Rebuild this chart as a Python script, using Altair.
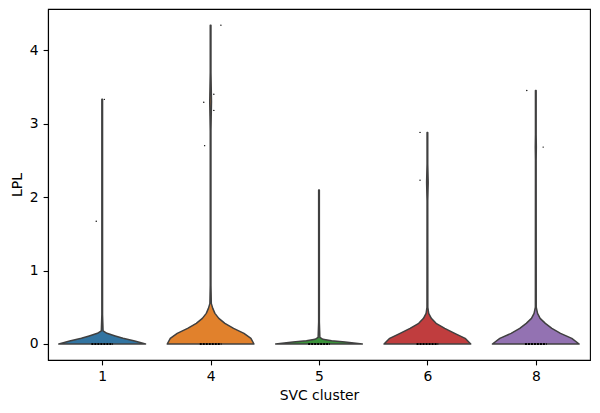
import altair as alt
import pandas as pd

# categories and colours
clusters = ["1", "4", "5", "6", "8"]
colors = ["#3274a1", "#e1812c", "#3a923a", "#c03d3e", "#9372b2"]

# violin outlines: level (LPL value) and relative half-width
levels = {
    "1": [0, 0.041, 0.077, 0.109, 0.145, 0.18, 0.4, 3.33],
    "4": [0, 0.077, 0.145, 0.213, 0.281, 0.349, 0.417, 0.485, 0.553, 0.8, 2.9, 3.1,
          3.3, 3.5, 3.7, 4.34],
    "5": [0, 0.027, 0.045, 0.063, 0.09, 0.3, 2.095],
    "6": [0, 0.077, 0.145, 0.213, 0.281, 0.349, 0.417, 0.5, 1.95, 2.2, 2.45, 2.88],
    "8": [0, 0.077, 0.145, 0.213, 0.281, 0.349, 0.417, 0.5, 2.5, 2.68, 2.85, 3.45],
}
widths = {
    "1": [1, 0.75, 0.48, 0.30, 0.11, 0.02, 0.008, 0.008],
    "4": [1, 0.93, 0.77, 0.53, 0.33, 0.19, 0.10, 0.05, 0.016, 0.008, 0.008, 0.014,
          0.02, 0.014, 0.008, 0.008],
    "5": [1, 0.6, 0.29, 0.09, 0.02, 0.008, 0.008],
    "6": [1, 0.87, 0.63, 0.40, 0.20, 0.09, 0.03, 0.01, 0.008, 0.018, 0.008, 0.008],
    "8": [1, 0.83, 0.57, 0.37, 0.22, 0.10, 0.04, 0.01, 0.008, 0.012, 0.008, 0.008],
}

# non-zero cells (strip points) and their jitter
point_cluster = ["1", "1", "4", "4", "4", "4", "4", "6", "6", "8", "8"]
point_value = [3.33, 1.67, 4.34, 3.40, 3.29, 3.18, 2.70, 2.88, 2.23, 3.45, 2.68]
point_jitter = [0.02, -0.055, 0.095, 0.03, -0.063, 0.03, -0.055, -0.068, -0.068, -0.083, 0.068]

# jitter spread of the many zero-valued cells
zero_spread = 0.1
max_half_width = 0.4

rows = []
for i, c in enumerate(clusters):
    for lv, w in zip(levels[c], widths[c]):
        rows.append({"cluster": c, "level": lv,
                     "left": i - max_half_width * w, "right": i + max_half_width * w})
violin_df = pd.DataFrame(rows)

points_df = pd.DataFrame({
    "cluster": point_cluster, "value": point_value,
    "pos": [clusters.index(c) + j for c, j in zip(point_cluster, point_jitter)],
})

zero_df = pd.DataFrame({
    "cluster": clusters,
    "x1": [i - zero_spread for i in range(len(clusters))],
    "x2": [i + zero_spread for i in range(len(clusters))],
    "zero": [0] * len(clusters),
})

FONT = "DejaVu Sans"
label_expr = "[" + ",".join("'%s'" % c for c in clusters) + "][datum.value]"

xscale = alt.Scale(domain=[-0.5, len(clusters) - 0.5], nice=False, zero=False)
yscale = alt.Scale(domain=[-0.218, 4.56], nice=False, zero=False)

x_axis = alt.Axis(values=list(range(len(clusters))), labelExpr=label_expr, title="SVC cluster",
                  grid=False, tickSize=4.9, labelPadding=4.9, tickColor="black", tickWidth=1.1,
                  domainColor="black", domainWidth=1.1, labelFont=FONT, labelFontSize=13.9,
                  labelColor="black", titleFont=FONT, titleFontSize=13.9, titleFontWeight="normal",
                  titleColor="black", titlePadding=5, labelFlush=False)
y_axis = alt.Axis(values=[0, 1, 2, 3, 4], title="LPL", grid=False, tickSize=4.9, labelPadding=4.9,
                  tickColor="black", tickWidth=1.1, domainColor="black", domainWidth=1.1,
                  labelFont=FONT, labelFontSize=13.9, labelColor="black", titleFont=FONT,
                  titleFontSize=13.9, titleFontWeight="normal", titleColor="black",
                  titlePadding=5, labelFlush=False)

violins = alt.Chart(violin_df).mark_area(
    orient="horizontal", stroke="#404040", strokeWidth=1.5, opacity=1, strokeJoin="round"
).encode(
    y=alt.Y("level:Q", scale=yscale, axis=y_axis),
    x=alt.X("left:Q", scale=xscale, axis=x_axis),
    x2="right:Q",
    color=alt.Color("cluster:N", scale=alt.Scale(domain=clusters, range=colors), legend=None),
)

zeros = alt.Chart(zero_df).mark_rule(color="black", strokeWidth=2, strokeDash=[2, 1]).encode(
    x=alt.X("x1:Q", scale=xscale, axis=x_axis),
    x2="x2:Q",
    y=alt.Y("zero:Q", scale=yscale, axis=y_axis),
)

points = alt.Chart(points_df).mark_circle(color="black", size=2, opacity=1).encode(
    x=alt.X("pos:Q", scale=xscale, axis=x_axis),
    y=alt.Y("value:Q", scale=yscale, axis=y_axis),
)

chart = alt.layer(violins, zeros, points).properties(
    width=542, height=351,
    background="white",
    autosize=alt.AutoSizeParams(type="none"),
    padding={"left": 48, "top": 9, "right": 10, "bottom": 53},
).configure_view(stroke="black", strokeWidth=1.1)

chart.save("out.html", embed_options={"renderer": "svg", "actions": False})
